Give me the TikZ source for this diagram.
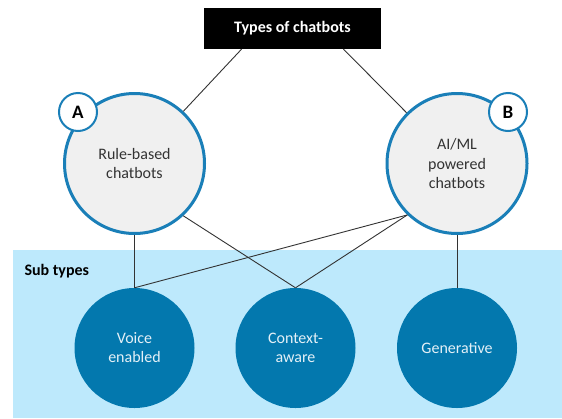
\documentclass[tikz,border=0pt]{standalone}
\usepackage{fontspec}
\setmainfont{Carlito}
\definecolor{bandblue}{HTML}{BDE9FC}
\definecolor{deepblue}{HTML}{0378AE}
\definecolor{ringblue}{HTML}{1A7FB8}
\definecolor{palegray}{HTML}{F0F0F0}
\definecolor{inktext}{HTML}{333333}
\definecolor{lighttext}{HTML}{E4F0F7}
\tikzset{
  x=1pt, y=-1pt,
  titlebox/.style={fill=black, text=white, font=\bfseries\fontsize{16}{19}\selectfont,
    minimum width=177pt, minimum height=41pt, inner sep=0pt},
  maintype/.style={circle, draw=ringblue, line width=3pt, fill=palegray, text=inktext,
    minimum size=140pt, inner sep=0pt, align=center, font=\fontsize{16}{19.5}\selectfont},
  badge/.style={circle, draw=ringblue, line width=2pt, fill=white, text=black,
    minimum size=38pt, inner sep=0pt, font=\bfseries\fontsize{19}{22}\selectfont},
  subtype/.style={circle, fill=deepblue, text=lighttext, minimum size=120pt, inner sep=0pt,
    align=center, font=\fontsize{16}{19}\selectfont},
  link/.style={draw=black!80, line width=0.9pt},
}
\begin{document}
\begin{tikzpicture}
  \useasboundingbox (0,0) rectangle (562,418);
  \fill[white] (0,0) rectangle (562,418);
  % sub type band
  \fill[bandblue] (12.5,250) rectangle (562,418);
  \node[anchor=west, font=\bfseries\fontsize{16}{19}\selectfont, text=black] (sublabel) at (21,271) {Sub types};

  % nodes
  \node[titlebox] (title) at (292.5,28.5) {Types of chatbots};
  \node[maintype] (A) at (134.5,163.5) {Rule-based\\chatbots};
  \node[maintype] (B) at (457,163.5) {AI/ML\\powered\\chatbots};
  \node[badge] (badgeA) at (78,112) {A};
  \node[badge] (badgeB) at (508,112) {B};
  \node[subtype] (voice) at (134.5,348) {Voice\\enabled};
  \node[subtype] (ctx) at (295.5,348) {Context-\\aware};
  \node[subtype] (gen) at (457,348) {Generative};

  % connectors
  \draw[link] ([xshift=-51pt]title.south) -- (A);
  \draw[link] ([xshift=51pt]title.south) -- (B);
  \draw[link] (A.south) -- (voice.north);
  \draw[link] (A.313) -- (ctx.north);
  \draw[link] (B.226) -- (voice.north);
  \draw[link] (B.226) -- (ctx.north);
  \draw[link] (B.south) -- (gen.north);
\end{tikzpicture}
\end{document}
